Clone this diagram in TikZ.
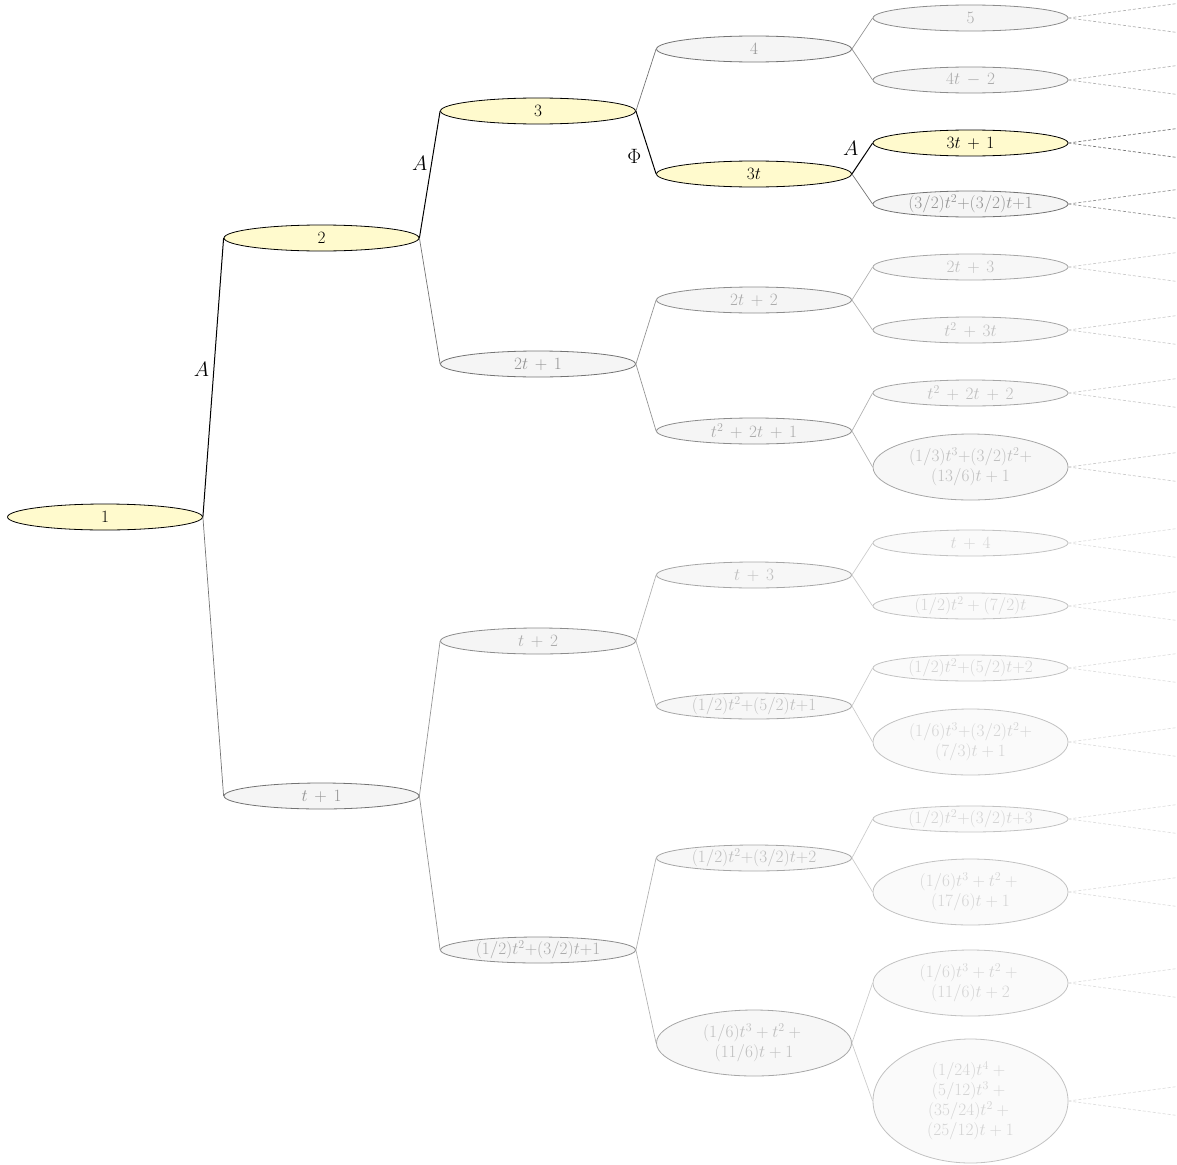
\documentclass[tikz,border=0pt]{standalone}
\usetikzlibrary{shapes.geometric,calc}
\definecolor{hl}{RGB}{255,250,205}
\newcommand{\myplus}{\mathbin{\,+\,}}
\newcommand{\myminus}{\mathbin{\,-\,}}
\tikzset{
 tn/.style={ellipse, minimum width=195pt, minimum height=26pt, inner sep=0pt, align=center, font=\fontsize{17.5}{20}\selectfont, line width=0.8pt},
 d0/.style={tn, draw=black, fill=hl, text=black},
 d1/.style={tn, draw=black!55, fill=black!4, text=black!42},
 d2/.style={tn, draw=black!45, fill=black!4, text=black!33},
 d3/.style={tn, draw=black!35, fill=black!3, text=black!25},
 d4/.style={tn, draw=black!24, fill=black!2, text=black!17},
 e0/.style={draw=black, line width=1pt},
 e1/.style={draw=black!55, line width=0.7pt},
 e2/.style={draw=black!42, line width=0.7pt},
 e3/.style={draw=black!30, line width=0.7pt},
 e4/.style={draw=black!20, line width=0.7pt},
 e5/.style={draw=black!13, line width=0.7pt},
 stub/.style={dash pattern=on 3pt off 2pt},
 lab/.style={font=\fontsize{20}{24}\selectfont, inner sep=0pt, text=black},
}
\begin{document}
\begin{tikzpicture}[x=1pt,y=-1pt]
\useasboundingbox (0,0) rectangle (1177,1164);
% level 0
\node[d0] (n0) at (105,517) {$1$};
% level 1
\node[d0] (a) at (321.5,238) {$2$};
\node[d1] (b) at (321.5,796) {$t \myplus 1$};
% level 2
\node[d0] (aa) at (538,111) {$3$};
\node[d1] (ab) at (538,364) {$2t \myplus 1$};
\node[d2] (ba) at (538,641) {$t \myplus 2$};
\node[d2] (bb) at (538,950) {$(1/2)t^2{+}(3/2)t{+}1$};
% level 3
\node[d1] (aaa) at (754,49) {$4$};
\node[d0] (aab) at (754,174) {$3t$};
\node[d2] (aba) at (754,300) {$2t \myplus 2$};
\node[d2] (abb) at (754,431) {$t^2 \myplus 2t \myplus 1$};
\node[d3] (baa) at (754,575) {$t \myplus 3$};
\node[d3] (bab) at (754,706) {$(1/2)t^2{+}(5/2)t{+}1$};
\node[d3] (bba) at (754,858) {$(1/2)t^2{+}(3/2)t{+}2$};
\node[d3, minimum height=66pt] (bbb) at (754,1043) {$(1/6)t^3 + t^2 +{}$\\$(11/6)t + 1$};
% level 4
\node[d2] (aaaa) at (970.5,18) {$5$};
\node[d2] (aaab) at (970.5,80) {$4t \myminus 2$};
\node[d0] (aaba) at (970.5,143) {$3t \myplus 1$};
\node[d1] (aabb) at (970.5,204) {$(3/2)t^2{+}(3/2)t{+}1$};
\node[d3] (abaa) at (970.5,267) {$2t \myplus 3$};
\node[d3] (abab) at (970.5,330) {$t^2 \myplus 3t$};
\node[d3] (abba) at (970.5,393) {$t^2 \myplus 2t \myplus 2$};
\node[d3, minimum height=66pt] (abbb) at (970.5,467) {$(1/3)t^3{+}(3/2)t^2{+}$\\$(13/6)t + 1$};
\node[d4] (baaa) at (970.5,543) {$t \myplus 4$};
\node[d4] (baab) at (970.5,606) {$(1/2)t^2 + (7/2)t$};
\node[d4] (baba) at (970.5,668) {$(1/2)t^2{+}(5/2)t{+}2$};
\node[d4, minimum height=66pt] (babb) at (970.5,742) {$(1/6)t^3{+}(3/2)t^2{+}$\\$(7/3)t + 1$};
\node[d4] (bbaa) at (970.5,819) {$(1/2)t^2{+}(3/2)t{+}3$};
\node[d4, minimum height=66pt] (bbab) at (970.5,892) {$(1/6)t^3 + t^2 +{}$\\$(17/6)t + 1$};
\node[d4, minimum height=66pt] (bbba) at (970.5,983) {$(1/6)t^3 + t^2 +{}$\\$(11/6)t + 2$};
\node[d4, minimum height=124pt] (bbbb) at (970.5,1101) {$(1/24)t^4 +{}$\\$(5/12)t^3 +{}$\\$(35/24)t^2 +{}$\\$(25/12)t + 1$};
% edges
\draw[e0] (n0.east) -- node[lab, pos=0.53, xshift=-12.5pt] {$A$} (a.west);
\draw[e1] (n0.east) -- (b.west);
\draw[e0] (a.east) -- node[lab, pos=0.59, xshift=-12pt] {$A$} (aa.west);
\draw[e1] (a.east) -- (ab.west);
\draw[e2] (b.east) -- (ba.west);
\draw[e2] (b.east) -- (bb.west);
\draw[e1] (aa.east) -- (aaa.west);
\draw[e0] (aa.east) -- node[lab, pos=0.714, xshift=-16pt] {$\Phi$} (aab.west);
\draw[e2] (ab.east) -- (aba.west);
\draw[e2] (ab.east) -- (abb.west);
\draw[e3] (ba.east) -- (baa.west);
\draw[e3] (ba.east) -- (bab.west);
\draw[e3] (bb.east) -- (bba.west);
\draw[e3] (bb.east) -- (bbb.west);
\draw[e2] (aaa.east) -- (aaaa.west);
\draw[e2] (aaa.east) -- (aaab.west);
\draw[e0] (aab.east) -- node[lab, pos=0.84, xshift=-18.5pt] {$A$} (aaba.west);
\draw[e1] (aab.east) -- (aabb.west);
\draw[e3] (aba.east) -- (abaa.west);
\draw[e3] (aba.east) -- (abab.west);
\draw[e3] (abb.east) -- (abba.west);
\draw[e3] (abb.east) -- (abbb.west);
\draw[e4] (baa.east) -- (baaa.west);
\draw[e4] (baa.east) -- (baab.west);
\draw[e4] (bab.east) -- (baba.west);
\draw[e4] (bab.east) -- (babb.west);
\draw[e4] (bba.east) -- (bbaa.west);
\draw[e4] (bba.east) -- (bbab.west);
\draw[e4] (bbb.east) -- (bbba.west);
\draw[e4] (bbb.east) -- (bbbb.west);
% dashed stubs
\foreach \n/\s in {aaaa/e3,aaab/e3,aaba/e1,aabb/e2,abaa/e4,abab/e4,abba/e4,abbb/e4,baaa/e5,baab/e5,baba/e5,babb/e5,bbaa/e5,bbab/e5,bbba/e5,bbbb/e5}{
  \draw[\s, stub] (\n.east) -- ($(\n.east)+(109,-14.5)$);
  \draw[\s, stub] (\n.east) -- ($(\n.east)+(109,14.5)$);
}
\end{tikzpicture}
\end{document}
